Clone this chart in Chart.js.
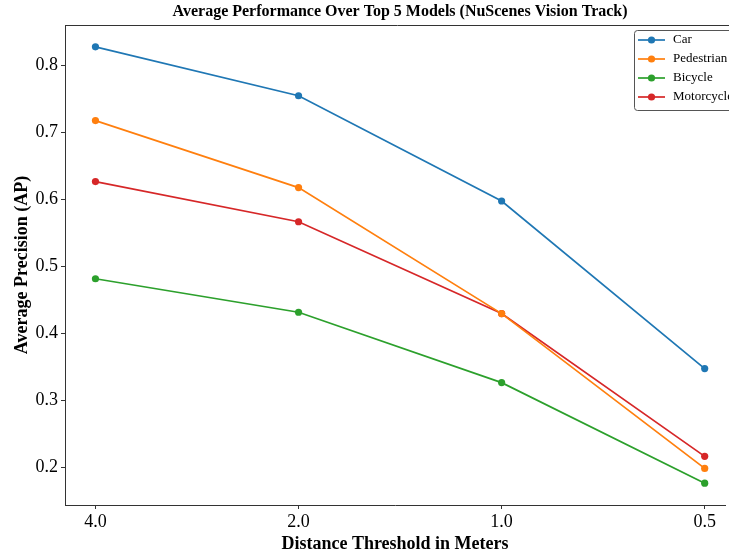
<!DOCTYPE html>
<html>
<head>
<meta charset="utf-8">
<script src="https://cdn.jsdelivr.net/npm/chart.js@4.4.0/dist/chart.umd.min.js"></script>
<style>
  html, body { margin: 0; padding: 0; background: #fff; overflow: hidden; }
  #chart { display: block; }
</style>
</head>
<body>
<canvas id="chart" width="729" height="555"></canvas>
<script>
var thresholds = ["4.0", "2.0", "1.0", "0.5"];
var car = [0.828, 0.755, 0.598, 0.348];
var pedestrian = [0.718, 0.618, 0.430, 0.199];
var bicycle = [0.482, 0.432, 0.327, 0.177];
var motorcycle = [0.627, 0.567, 0.430, 0.217];
var yTicks = [0.2, 0.3, 0.4, 0.5, 0.6, 0.7, 0.8];

var names = ["Car", "Pedestrian", "Bicycle", "Motorcycle"];
var series = [car, pedestrian, bicycle, motorcycle];
var colors = ["#1f77b4", "#ff7f0e", "#2ca02c", "#d62728"];

function toPoints(vals) {
  return vals.map(function (v, i) { return { x: i, y: v }; });
}

var datasets = series.map(function (vals, i) {
  return {
    label: names[i],
    data: toPoints(vals),
    borderColor: colors[i],
    backgroundColor: colors[i],
    borderWidth: 1.7,
    pointRadius: 3.6,
    pointBorderWidth: 0,
    tension: 0
  };
});

var SERIF = "'Liberation Serif', 'DejaVu Serif', serif";

// title centred over the axes, plus the top spine and the boxed legend
var decor = {
  id: 'decor',
  afterDraw: function (chart) {
    var ctx = chart.ctx;
    var a = chart.chartArea;
    var rightEdge = chart.scales.x.getPixelForValue(3.15);
    ctx.save();
    ctx.strokeStyle = '#333';
    ctx.lineWidth = 1;
    ctx.beginPath();
    ctx.moveTo(a.left, a.top + 0.5);
    ctx.lineTo(rightEdge, a.top + 0.5);
    ctx.stroke();

    ctx.fillStyle = '#000';
    ctx.font = "bold 16px " + SERIF;
    ctx.textAlign = 'center';
    ctx.textBaseline = 'middle';
    ctx.fillText("Average Performance Over Top 5 Models (NuScenes Vision Track)", (a.left + rightEdge) / 2, 12);

    // legend
    var bx = 634.5, by = 30.5, bw = 110, bh = 80;
    ctx.beginPath();
    ctx.roundRect(bx, by, bw, bh, 3);
    ctx.fillStyle = '#fff';
    ctx.fill();
    ctx.strokeStyle = '#555';
    ctx.stroke();
    ctx.font = "13px " + SERIF;
    ctx.textAlign = 'left';
    chart.data.datasets.forEach(function (ds, i) {
      var y = 40 + i * 19;
      ctx.strokeStyle = ds.borderColor;
      ctx.lineWidth = 1.7;
      ctx.beginPath();
      ctx.moveTo(638, y);
      ctx.lineTo(665, y);
      ctx.stroke();
      ctx.fillStyle = ds.borderColor;
      ctx.beginPath();
      ctx.arc(651.5, y, 3.6, 0, Math.PI * 2);
      ctx.fill();
      ctx.fillStyle = '#000';
      ctx.fillText(ds.label, 673, y);
    });
    ctx.restore();
  }
};

new Chart(document.getElementById('chart'), {
  type: 'line',
  data: { datasets: datasets },
  plugins: [decor],
  options: {
    responsive: false,
    animation: false,
    layout: { padding: { top: 25, left: 0, right: 0, bottom: 0 } },
    plugins: {
      legend: { display: false },
      title: { display: false },
      tooltip: { enabled: false }
    },
    scales: {
      x: {
        type: 'linear',
        min: -0.15,
        max: 3.1,
        afterFit: function (s) { s.height = 50; },
        afterBuildTicks: function (s) {
          s.ticks = thresholds.map(function (t, i) { return { value: i }; });
        },
        ticks: {
          color: '#000',
          font: { family: SERIF, size: 18 },
          padding: 2,
          maxRotation: 0,
          callback: function (v) { return thresholds[v]; }
        },
        grid: { display: true, drawOnChartArea: false, drawTicks: true, tickLength: 4, color: '#333' },
        border: { display: true, color: '#333', width: 1 },
        title: {
          display: true,
          text: 'Distance Threshold in Meters',
          color: '#000',
          font: { family: SERIF, size: 18, weight: 'bold' },
          padding: { top: 0, bottom: 0 }
        }
      },
      y: {
        type: 'linear',
        min: 0.1444,
        max: 0.8606,
        afterFit: function (s) { s.width = 65; },
        afterBuildTicks: function (s) {
          s.ticks = yTicks.map(function (v) { return { value: v }; });
        },
        ticks: {
          color: '#000',
          font: { family: SERIF, size: 18 },
          padding: 3,
          callback: function (v) { return v.toFixed(1); }
        },
        grid: { display: true, drawOnChartArea: false, drawTicks: true, tickLength: 4, color: '#333' },
        border: { display: true, color: '#333', width: 1 },
        title: {
          display: true,
          text: 'Average Precision (AP)',
          color: '#000',
          font: { family: SERIF, size: 18, weight: 'bold' },
          padding: { top: 12, bottom: 0 }
        }
      }
    }
  }
});
</script>
</body>
</html>
